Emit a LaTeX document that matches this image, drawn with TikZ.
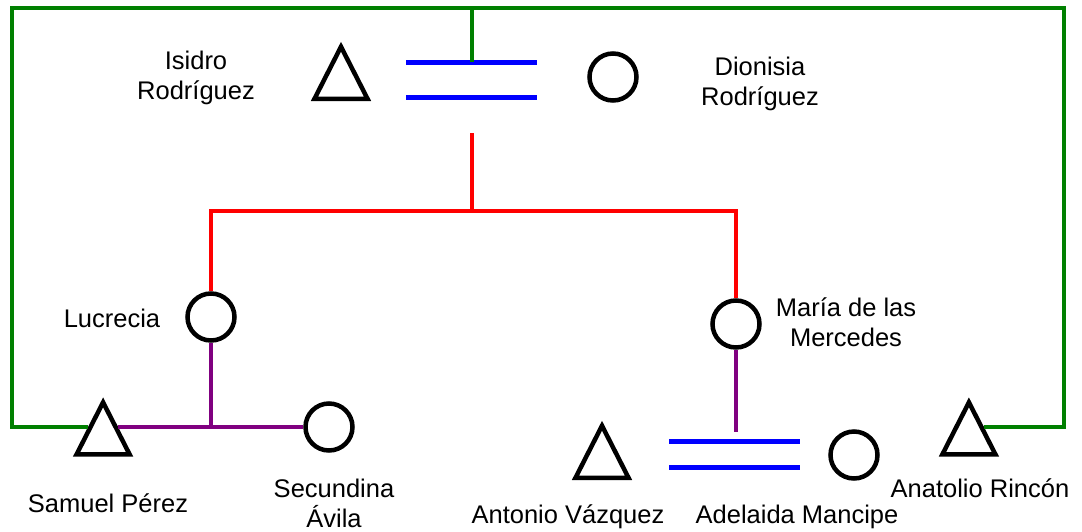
\documentclass[tikz,border=0pt]{standalone}
\usepackage{fontspec}
\setmainfont{Liberation Sans}
\usetikzlibrary{shapes.geometric}
\definecolor{kingreen}{RGB}{0,128,0}
\definecolor{kinblue}{RGB}{0,0,255}
\definecolor{kinred}{RGB}{255,0,0}
\definecolor{kinpurple}{RGB}{128,0,128}

\begin{document}
\begin{tikzpicture}[
  x=1pt, y=-1pt,
  male/.style={isosceles triangle, isosceles triangle apex angle=54, shape border rotate=90, draw=black, line width=4.5pt, minimum width=52pt, minimum height=52pt, inner sep=0pt, anchor=south},
  female/.style={circle, draw=black, line width=4.5pt, minimum size=47pt, inner sep=0pt},
  lbl/.style={font=\fontsize{25.5}{30}\selectfont, align=center, inner sep=0pt},
  wed/.style={draw=kinblue, line width=5pt},
  tieG/.style={draw=kingreen, line width=4pt},
  tieR/.style={draw=kinred, line width=4pt},
  tieP/.style={draw=kinpurple, line width=4pt}
]
\useasboundingbox (0,0) rectangle (1082,531);

% Top couple
\node[male] (isidro) at (341,101) {};
\node[female] (dionisia) at (613,77) {};
\node[lbl] (isidroLbl) at (196,78) {Isidro\\Rodríguez};
\node[lbl] (dionisiaLbl) at (760,84) {Dionisia\\Rodríguez};
\draw[wed] (406,62) -- (537,62) (406,97) -- (537,97);
\coordinate (wedTop) at (472,62);
\coordinate (wedBot) at (472,133);

% Daughters
\node[female] (lucrecia) at (211,317) {};
\node[female] (maria) at (736,324) {};
\node[lbl] (lucreciaLbl) at (112,318) {Lucrecia};
\node[lbl] (mariaLbl) at (846,322) {María de las\\Mercedes};
\coordinate (sibs) at (472,211);

% Bottom row
\node[male, anchor=left side] (samuel) at (88,427) {};
\node[female] (secundina) at (329,427) {};
\node[male] (antonio) at (602,480) {};
\node[female] (adelaida) at (854,455) {};
\node[male, anchor=right side] (anatolio) at (984,427) {};
\node[lbl] (samuelLbl) at (108,503) {Samuel Pérez};
\node[lbl] (secundinaLbl) at (334,503) {Secundina\\Ávila};
\node[lbl] (antonioLbl) at (568,517) {Antonio Vázquez};
\node[lbl] (adelaidaLbl) at (797,517) {Adelaida Mancipe};
\node[lbl] (anatolioLbl) at (980,488) {Anatolio Rincón};
\draw[wed] (669,441) -- (800,441) (669,467) -- (800,467);
\coordinate (wedBTop) at (736,432);

% Green rail
\coordinate (railL) at (12,8);
\coordinate (railR) at (1064,8);
\coordinate (railM) at (472,8);
\draw[tieG] (samuel.left side) -| (railL) -- (railR) |- (anatolio.right side);
\draw[tieG] (railM) -- (wedTop);

% Descent
\draw[tieR] (wedBot) -- (sibs);
\draw[tieR] (lucrecia.north) |- (sibs) -| (maria.north);
\draw[tieP] (samuel.right side) -- (secundina.west);
\draw[tieP] (lucrecia.south) -- (lucrecia.south |- secundina.west);
\draw[tieP] (maria.south) -- (wedBTop);

\end{tikzpicture}
\end{document}
